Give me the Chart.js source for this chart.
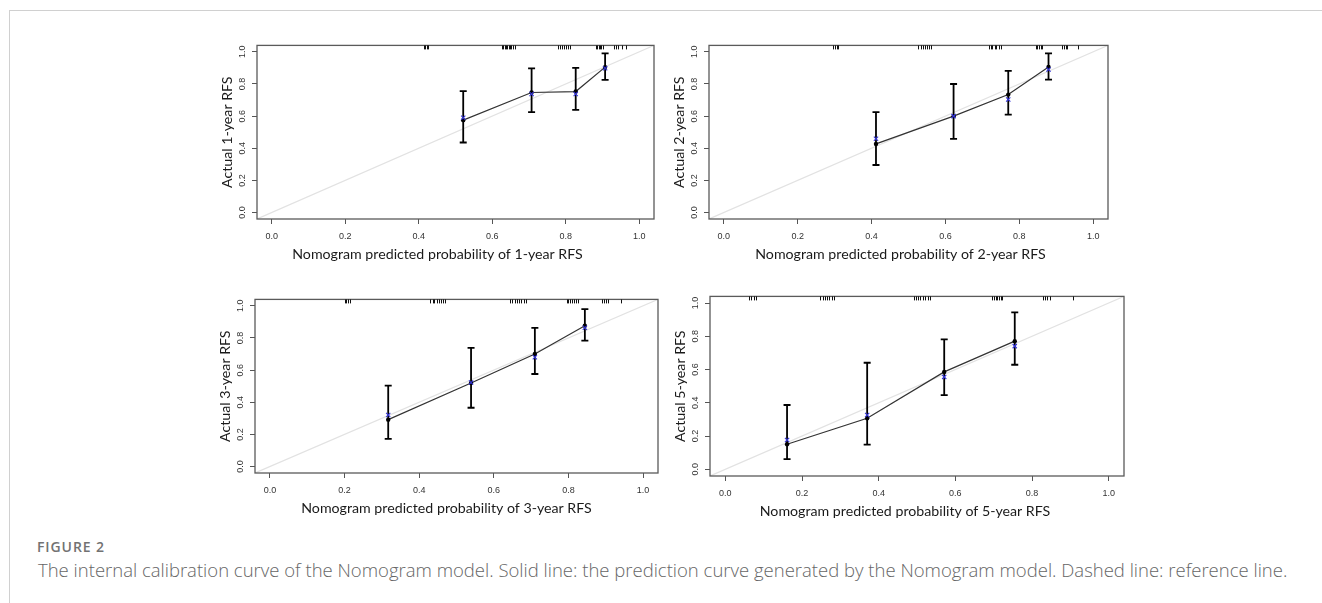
<!DOCTYPE html>
<html>
<head>
<meta charset="utf-8">
<script src="https://cdn.jsdelivr.net/npm/chart.js@4.4.1/dist/chart.umd.min.js"></script>
<style>
html,body{margin:0;padding:0;background:#fff;}
body{width:1322px;height:603px;position:relative;overflow:hidden;}
#frame{position:absolute;left:9px;top:10px;width:1313px;height:593px;border-left:1px solid #d0d0d0;border-top:1px solid #d0d0d0;box-sizing:border-box;}
canvas{position:absolute;}
#figlabel{position:absolute;left:37px;top:537px;font-family:"Open Sans",sans-serif;font-size:14px;font-weight:600;letter-spacing:0.9px;color:#727272;white-space:nowrap;}
#caption{position:absolute;left:38px;top:557px;font-family:"Open Sans",sans-serif;font-size:18.5px;font-weight:300;color:#666;white-space:nowrap;}
</style>
</head>
<body>
<div id="frame"></div>
<div id="figlabel">FIGURE 2</div>
<div id="caption">The internal calibration curve of the Nomogram model. Solid line: the prediction curve generated by the Nomogram model. Dashed line: reference line.</div>
<script>
// ---------- data ----------
const axisTicks = [0, 0.2, 0.4, 0.6, 0.8, 1.0];
const axisMin = -0.04;
const axisMax = 1.04;
const horizons = ['1-year', '2-year', '3-year', '5-year'];

// 1-year
const pred1  = [0.521, 0.707, 0.827, 0.907];
const obs1   = [0.575, 0.747, 0.753, 0.905];
const corr1  = [0.590, 0.737, 0.737, 0.898];
const lower1 = [0.436, 0.625, 0.639, 0.826];
const upper1 = [0.755, 0.897, 0.900, 0.990];
const rug1 = [0.414,0.418,0.422,0.425,0.626,0.630,0.634,0.638,0.641,0.645,0.648,0.652,0.657,0.662,
              0.779,0.784,0.790,0.795,0.800,0.806,0.812,0.882,0.886,0.890,0.893,0.897,0.901,
              0.932,0.936,0.941,0.952,0.963];

// 2-year
const pred2  = [0.412, 0.622, 0.770, 0.879];
const obs2   = [0.427, 0.600, 0.734, 0.906];
const corr2  = [0.459, 0.600, 0.704, 0.890];
const lower2 = [0.296, 0.459, 0.609, 0.827];
const upper2 = [0.625, 0.800, 0.881, 0.990];
const rug2 = [0.296,0.301,0.306,0.310,0.527,0.533,0.538,0.544,0.550,0.556,0.562,
              0.717,0.722,0.727,0.733,0.738,0.744,0.750,0.845,0.849,0.853,0.858,0.862,
              0.916,0.921,0.926,0.930,0.960];

// 3-year
const pred3  = [0.317, 0.539, 0.710, 0.844];
const obs3   = [0.292, 0.520, 0.700, 0.876];
const corr3  = [0.321, 0.523, 0.680, 0.863];
const lower3 = [0.172, 0.366, 0.576, 0.783];
const upper3 = [0.503, 0.739, 0.863, 0.980];
const rug3 = [0.200,0.204,0.209,0.215,0.430,0.436,0.441,0.447,0.452,0.458,0.464,0.470,
              0.644,0.650,0.656,0.662,0.668,0.674,0.680,0.687,0.795,0.800,0.805,0.810,0.815,0.820,0.826,
              0.891,0.896,0.901,0.906,0.942];

// 5-year
const pred5  = [0.161, 0.370, 0.571, 0.755];
const obs5   = [0.151, 0.307, 0.586, 0.771];
const corr5  = [0.177, 0.327, 0.556, 0.741];
const lower5 = [0.062, 0.149, 0.446, 0.629];
const upper5 = [0.387, 0.641, 0.781, 0.944];
const rug5 = [0.063,0.068,0.074,0.080,0.248,0.254,0.260,0.266,0.271,0.277,0.283,
              0.491,0.497,0.503,0.509,0.515,0.521,0.528,0.535,0.696,0.700,0.705,0.709,0.713,0.718,0.722,
              0.830,0.835,0.840,0.846,0.907];

const series = [
  {pred: pred1, obs: obs1, corr: corr1, lower: lower1, upper: upper1, rug: rug1},
  {pred: pred2, obs: obs2, corr: corr2, lower: lower2, upper: upper2, rug: rug2},
  {pred: pred3, obs: obs3, corr: corr3, lower: lower3, upper: upper3, rug: rug3},
  {pred: pred5, obs: obs5, corr: corr5, lower: lower5, upper: upper5, rug: rug5}
];

// ---------- layout (plot box positions in page pixels) ----------
const layouts = [
  {l: 257, t: 45,  r: 654,  b: 219, titleDx: -18, titleDy: 35},
  {l: 709, t: 45,  r: 1108, b: 219, titleDx: -8,  titleDy: 35},
  {l: 255, t: 299, r: 658,  b: 473, titleDx: -10, titleDy: 35},
  {l: 710, t: 296, r: 1124, b: 476, titleDx: -12, titleDy: 35}
];
const Y_W = 45, X_H = 52, PAD_T = 8, PAD_R = 8;
const TITLE_FONT = '14.2px Lato';
const TICK_FONT = {family: 'Liberation Sans', size: 9};

const boxPlugin = {
  id: 'rbox',
  afterDatasetDraw(chart, args) {
    const cfg = chart.config.options.plugins.rbox;
    const ctx = chart.ctx, xs = chart.scales.x, ys = chart.scales.y;
    if (args.index !== 3) return;
    // error bars (drawn above the reference line, below the points)
    ctx.save();
    ctx.strokeStyle = '#000';
    ctx.lineWidth = 1.8;
    const s = cfg.series;
    for (let i = 0; i < s.pred.length; i++) {
      const px = xs.getPixelForValue(s.pred[i]);
      const y1 = ys.getPixelForValue(s.lower[i]);
      const y2 = ys.getPixelForValue(s.upper[i]);
      ctx.beginPath();
      ctx.moveTo(px, y1); ctx.lineTo(px, y2);
      ctx.moveTo(px - 3.5, y1); ctx.lineTo(px + 3.5, y1);
      ctx.moveTo(px - 3.5, y2); ctx.lineTo(px + 3.5, y2);
      ctx.stroke();
    }
    ctx.restore();
  },
  afterDraw(chart) {
    const cfg = chart.config.options.plugins.rbox;
    const ctx = chart.ctx, a = chart.chartArea, xs = chart.scales.x;
    ctx.save();
    // plot box
    ctx.strokeStyle = '#5a5a5a';
    ctx.lineWidth = 1.3;
    ctx.strokeRect(a.left, a.top, a.right - a.left, a.bottom - a.top);
    // rug along the top
    ctx.strokeStyle = '#111';
    ctx.lineWidth = 1;
    ctx.beginPath();
    cfg.series.rug.forEach(v => {
      const px = Math.round(xs.getPixelForValue(v)) + 0.5;
      ctx.moveTo(px, a.top);
      ctx.lineTo(px, a.top + 4);
    });
    ctx.stroke();
    // x axis title
    ctx.fillStyle = '#1a1a1a';
    ctx.font = TITLE_FONT;
    ctx.textAlign = 'center';
    ctx.textBaseline = 'middle';
    ctx.fillText(cfg.xTitle, (a.left + a.right) / 2 + cfg.titleDx, a.bottom + cfg.titleDy);
    ctx.restore();
  }
};

function axisConf(isX, title) {
  return {
    type: 'linear',
    min: axisMin,
    max: axisMax,
    offset: false,
    afterBuildTicks: sc => { sc.ticks = axisTicks.map(v => ({value: v})); },
    afterFit: sc => { if (isX) sc.height = X_H; else sc.width = Y_W; },
    grid: {display: true, drawOnChartArea: false, drawTicks: true, tickLength: 5, color: '#555', lineWidth: 1},
    border: {display: false},
    ticks: isX
      ? {autoSkip: false, maxRotation: 0, minRotation: 0, padding: 7, color: '#333', font: TICK_FONT,
         callback: v => Number(v).toFixed(1)}
      : {autoSkip: false, maxRotation: 90, minRotation: 90, crossAlign: 'center', padding: 3, color: '#333', font: TICK_FONT,
         callback: v => Number(v).toFixed(1)},
    title: isX ? {display: false}
      : {display: true, text: title, color: '#1a1a1a', font: {family: 'Lato', size: 14.2}, padding: {top: 6.5, bottom: 0}}
  };
}

series.forEach((s, i) => {
  const L = layouts[i];
  const cv = document.createElement('canvas');
  const w = (L.r - L.l) + Y_W + PAD_R;
  const h = (L.b - L.t) + PAD_T + X_H;
  cv.width = w; cv.height = h;
  cv.style.left = (L.l - Y_W) + 'px';
  cv.style.top = (L.t - PAD_T) + 'px';
  cv.style.width = w + 'px'; cv.style.height = h + 'px';
  document.body.appendChild(cv);

  const pts = arr => s.pred.map((x, k) => ({x: x, y: arr[k]}));
  new Chart(cv, {
    type: 'scatter',
    data: {
      datasets: [
        {label: 'bias-corrected', data: pts(s.corr), pointStyle: 'crossRot', pointRadius: 3,
         borderColor: '#3434d8', backgroundColor: '#3434d8', pointBorderWidth: 1.1, showLine: false},
        {label: 'observed', data: pts(s.obs), pointStyle: 'circle', pointRadius: 2.2,
         borderColor: '#000', backgroundColor: '#000', pointBorderWidth: 0, showLine: false},
        {label: 'calibration', data: pts(s.obs), showLine: true, pointRadius: 0,
         borderColor: '#333', borderWidth: 1.2, fill: false},
        {label: 'reference', data: [{x: axisMin, y: axisMin}, {x: axisMax, y: axisMax}], showLine: true,
         pointRadius: 0, borderColor: '#e2e2e2', borderWidth: 1.2, fill: false}
      ]
    },
    options: {
      responsive: false,
      animation: false,
      devicePixelRatio: 1,
      layout: {padding: {top: PAD_T, right: PAD_R, left: 0, bottom: 0}},
      scales: {
        x: axisConf(true),
        y: axisConf(false, 'Actual ' + horizons[i] + ' RFS')
      },
      plugins: {
        legend: {display: false},
        tooltip: {enabled: false},
        rbox: {series: s, xTitle: 'Nomogram predicted probability of ' + horizons[i] + ' RFS',
               titleDx: L.titleDx, titleDy: L.titleDy}
      }
    },
    plugins: [boxPlugin]
  });
});
</script>
</body>
</html>
